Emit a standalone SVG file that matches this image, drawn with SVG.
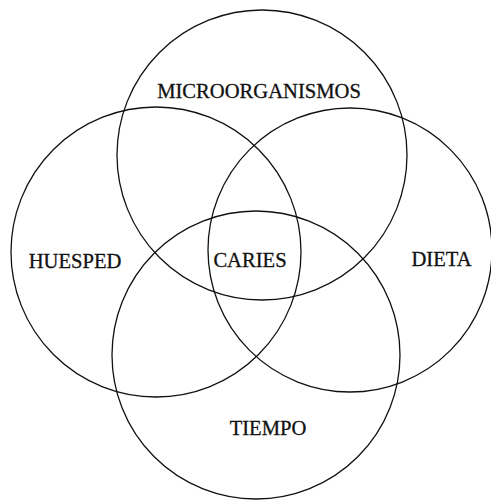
<svg xmlns="http://www.w3.org/2000/svg" width="491" height="500" viewBox="0 0 491 500">
<style>
.c{fill:none;stroke:#111;stroke-width:1.3}
.t{font-family:"Liberation Serif","Times New Roman",serif;font-size:20.6px;fill:#111;stroke:#111;stroke-width:0.3;text-anchor:middle}
</style>
<rect width="491" height="500" fill="#fff"/>
<g id="microorganismos"><circle class="c" cx="262" cy="155" r="145"/><text class="t" x="259" y="98">MICROORGANISMOS</text></g>
<g id="huesped"><circle class="c" cx="156" cy="252" r="145"/><text class="t" x="75" y="268">HUESPED</text></g>
<g id="dieta"><circle class="c" cx="350" cy="250" r="142"/><text class="t" x="441.5" y="266">DIETA</text></g>
<g id="tiempo"><circle class="c" cx="256" cy="355" r="144"/><text class="t" x="268" y="435">TIEMPO</text></g>
<g id="caries"><text class="t" x="250" y="267">CARIES</text></g>
<g id="connectors"/>
</svg>
